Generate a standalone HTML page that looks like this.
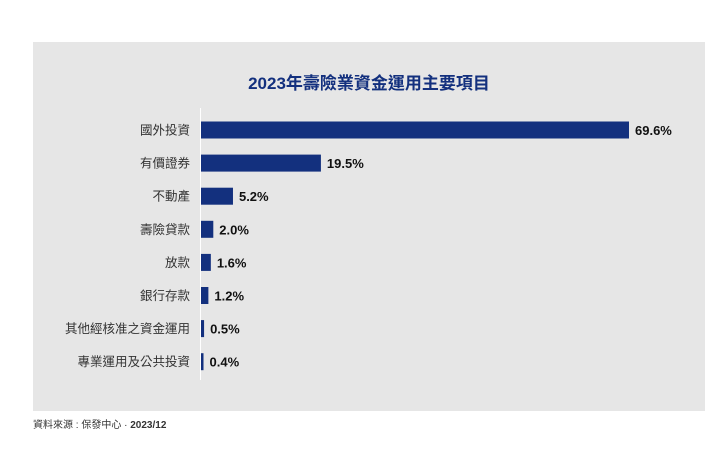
<!DOCTYPE html>
<html><head><meta charset="utf-8"><style>
body{margin:0;background:#fff;width:720px;height:446px;overflow:hidden;font-family:"Liberation Sans","Noto Sans CJK TC",sans-serif}
</style></head><body>
<svg width="720" height="446" xmlns="http://www.w3.org/2000/svg">
<rect x="33" y="42" width="672" height="369" fill="#e6e6e6"/>
<text x="369" y="89" text-anchor="middle" font-size="17" font-weight="bold" fill="#13307e" font-family="Liberation Sans, Noto Sans CJK TC, sans-serif">2023年壽險業資金運用主要項目</text>
<line x1="200.5" y1="108" x2="200.5" y2="380" stroke="#ffffff" stroke-width="1"/>
<g id="bars"></g>
<text x="33" y="428" font-size="10" fill="#333" font-family="Liberation Sans, Noto Sans CJK TC, sans-serif">資料來源 : 保發中心 · <tspan font-weight="bold">2023/12</tspan></text>
</svg>
<script>
const categories=["國外投資","有價證券","不動產","壽險貸款","放款","銀行存款","其他經核准之資金運用","專業運用及公共投資"];
const values=[69.6,19.5,5.2,2.0,1.6,1.2,0.5,0.4];
const valueLabels=["69.6%","19.5%","5.2%","2.0%","1.6%","1.2%","0.5%","0.4%"];
const NS="http://www.w3.org/2000/svg";
const g=document.getElementById('bars');
const x0=201, xScale=v=>v*(428/69.6);
const yCenter=i=>130+i*33.1;
categories.forEach((c,i)=>{
  const y=yCenter(i);
  const w=Math.max(xScale(values[i]),2.5);
  const r=document.createElementNS(NS,'rect');
  
  
  r.setAttribute('x',x0);r.setAttribute('y',y-8.5);r.setAttribute('width',w);r.setAttribute('height',17);r.setAttribute('fill','#13307e');
  g.appendChild(r);
  const t=document.createElementNS(NS,'text');
  
  
  t.setAttribute('x',190);t.setAttribute('y',y+4.5);t.setAttribute('text-anchor','end');t.setAttribute('font-size','12.5');t.setAttribute('fill','#333');
  t.textContent=c;g.appendChild(t);
  const v=document.createElementNS(NS,'text');
  
  
  v.setAttribute('x',x0+w+6);v.setAttribute('y',y+5);v.setAttribute('font-size','13');v.setAttribute('font-weight','bold');v.setAttribute('fill','#111');
  v.textContent=valueLabels[i];g.appendChild(v);
});
</script>
</body></html>
